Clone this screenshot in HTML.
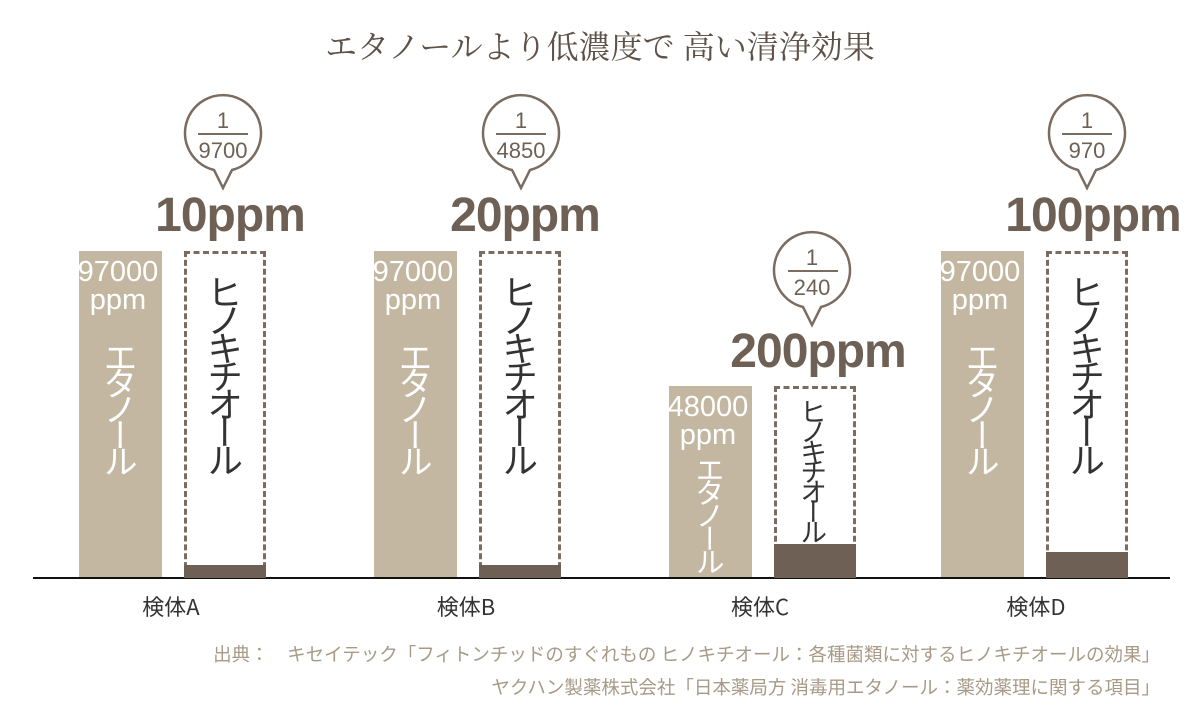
<!DOCTYPE html><html><head><meta charset="utf-8"><style>
body{margin:0;width:1200px;height:711px;background:#fff;position:relative;overflow:hidden;font-family:"Liberation Sans","Noto Sans CJK JP",sans-serif;color:#6e6054}
.a{position:absolute}
.eth{position:absolute;background:#c4b7a1}
.hin{position:absolute;border:3px dashed #7a6c60;box-sizing:border-box}
.fill{position:absolute;background:#6e6054}
.num{position:absolute;color:#fff;font-size:29px;text-align:center;line-height:28px;width:110px}
.vt{position:absolute;writing-mode:vertical-rl;font-family:"Noto Sans CJK JP",sans-serif;font-weight:400;line-height:1}
.ppm{position:absolute;font-size:48px;font-weight:bold;text-align:center;width:300px;letter-spacing:-1px}
.lbl{position:absolute;font-size:22px;text-align:center;width:120px;color:#333;font-family:"Noto Sans CJK JP",sans-serif}
</style></head><body>
<div class="a" style="left:0;width:1200px;top:22px;text-align:center;font-size:32px;font-family:'Noto Serif CJK SC',serif;color:#5e5248">エタノールより低濃度で 高い清浄効果</div>
<svg class="a" style="left:0;top:0" width="1200" height="711">
<g fill="#fff" stroke="#7a6c60" stroke-width="2.5">
<path d="M214,170 A38,38 0 1 1 232,170 L223,188 Z"/>
<path d="M512,170 A38,38 0 1 1 530,170 L521,188 Z"/>
<path d="M803,307 A38,38 0 1 1 821,307 L812,325 Z"/>
<path d="M1078,170 A38,38 0 1 1 1096,170 L1087,188 Z"/>
</g>
<g stroke="#7a6c60" stroke-width="2"><line x1="198" y1="134" x2="248" y2="134"/><line x1="496" y1="134" x2="546" y2="134"/><line x1="788" y1="271" x2="838" y2="271"/><line x1="1062" y1="134" x2="1112" y2="134"/></g>
<g font-size="22" fill="#6e6054" text-anchor="middle" font-family="Liberation Sans">
<text x="223" y="128">1</text><text x="223" y="158">9700</text>
<text x="521" y="128">1</text><text x="521" y="158">4850</text>
<text x="812" y="265">1</text><text x="812" y="295">240</text>
<text x="1087" y="128">1</text><text x="1087" y="158">970</text>
</g>
<line x1="33" y1="578" x2="1170" y2="578" stroke="#111" stroke-width="2"/>
</svg>
<div class="ppm" style="left:80px;top:188px">10ppm</div>
<div class="ppm" style="left:375px;top:188px">20ppm</div>
<div class="ppm" style="left:668px;top:324px">200ppm</div>
<div class="ppm" style="left:943px;top:188px">100ppm</div>

<div class="eth" style="left:79px;top:251px;width:83px;height:326px"></div>
<div class="eth" style="left:374px;top:251px;width:83px;height:326px"></div>
<div class="eth" style="left:669px;top:386px;width:83px;height:191px"></div>
<div class="eth" style="left:941px;top:251px;width:83px;height:326px"></div>
<div class="num" style="left:63px;top:258px">97000<br>ppm</div>
<div class="num" style="left:358px;top:258px">97000<br>ppm</div>
<div class="num" style="left:653px;top:393px">48000<br>ppm</div>
<div class="num" style="left:925px;top:258px">97000<br>ppm</div>
<div class="vt" style="left:103px;top:340px;color:#fff;font-size:34px;letter-spacing:-8px">エタノール</div>
<div class="vt" style="left:398px;top:340px;color:#fff;font-size:34px;letter-spacing:-8px">エタノール</div>
<div class="vt" style="left:695px;top:455px;color:#fff;font-size:29px;letter-spacing:-6px">エタノール</div>
<div class="vt" style="left:965px;top:340px;color:#fff;font-size:34px;letter-spacing:-8px">エタノール</div>

<div class="hin" style="left:184px;top:251px;width:82px;height:326px"></div>
<div class="hin" style="left:479px;top:251px;width:82px;height:326px"></div>
<div class="hin" style="left:774px;top:386px;width:82px;height:191px"></div>
<div class="hin" style="left:1046px;top:251px;width:82px;height:326px"></div>
<div class="fill" style="left:184px;top:565px;width:82px;height:13px"></div>
<div class="fill" style="left:479px;top:565px;width:82px;height:13px"></div>
<div class="fill" style="left:774px;top:544px;width:82px;height:34px"></div>
<div class="fill" style="left:1046px;top:552px;width:82px;height:26px"></div>
<div class="vt" style="left:207px;top:274px;font-size:36px;color:#333;letter-spacing:-8px">ヒノキチオール</div>
<div class="vt" style="left:502px;top:274px;font-size:36px;color:#333;letter-spacing:-8px">ヒノキチオール</div>
<div class="vt" style="left:800px;top:398px;font-size:27px;color:#333;letter-spacing:-7px">ヒノキチオール</div>
<div class="vt" style="left:1069px;top:274px;font-size:36px;color:#333;letter-spacing:-8px">ヒノキチオール</div>

<div class="lbl" style="left:111px;top:590px">検体A</div>
<div class="lbl" style="left:406px;top:590px">検体B</div>
<div class="lbl" style="left:700px;top:590px">検体C</div>
<div class="lbl" style="left:976px;top:590px">検体D</div>
<div class="a" style="right:40px;top:638px;font-size:18.5px;color:#a89a86;font-family:'Noto Sans CJK JP',sans-serif;text-align:right;line-height:33px;font-weight:400;white-space:nowrap">出典：　キセイテック「フィトンチッドのすぐれもの ヒノキチオール：各種菌類に対するヒノキチオールの効果」<br>ヤクハン製薬株式会社「日本薬局方 消毒用エタノール：薬効薬理に関する項目」</div>
</body></html>
